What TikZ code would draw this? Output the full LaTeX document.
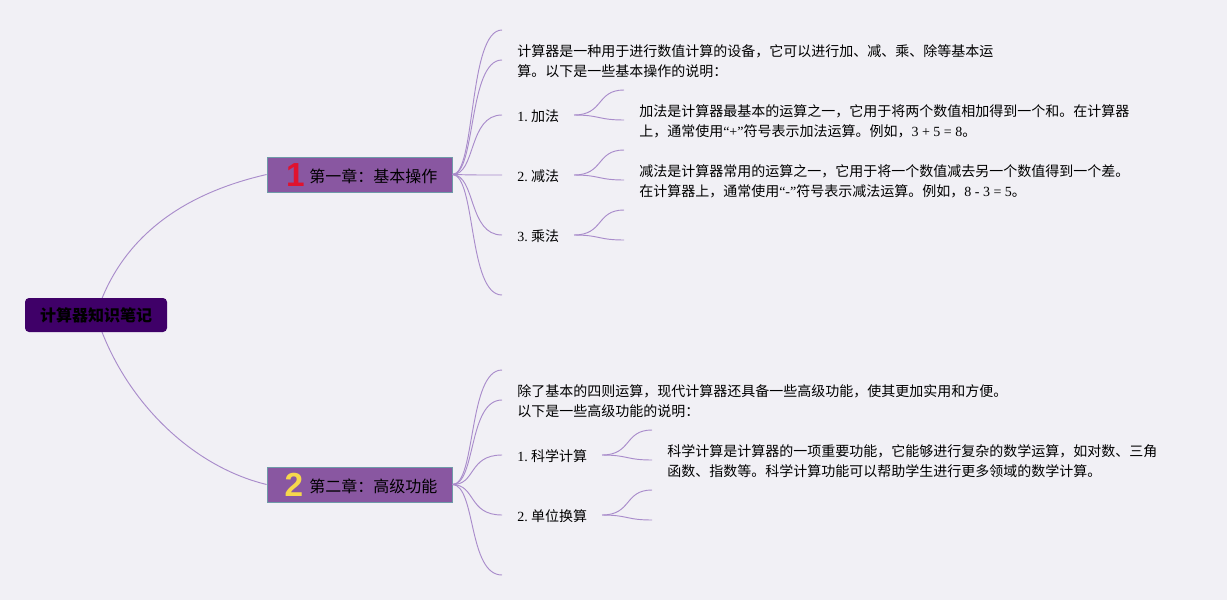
\documentclass[tikz,border=0pt]{standalone}
\usepackage{fontspec}
\setmainfont{Noto Sans CJK SC}
\newfontfamily\lat{Liberation Serif}
\newfontfamily\icon{Liberation Sans}
\usepackage{xcolor}
\newcommand{\zc}{\symbol{"FF0C}}
\newcommand{\zk}{\symbol{"FF1A}}
\definecolor{paper}{HTML}{F1F0F5}
\definecolor{rootfill}{HTML}{3F0068}
\definecolor{chapterfill}{HTML}{8957A1}
\definecolor{chapterline}{HTML}{6F9AA8}
\definecolor{linecol}{HTML}{A98CCB}
\definecolor{onecol}{HTML}{E0122F}
\definecolor{twocol}{HTML}{F6D84C}
\tikzset{
  root/.style={
    draw=none,
    fill=rootfill,
    rounded corners=3pt,
    minimum width=106.5pt,
    minimum height=25.5pt,
    inner sep=0pt,
    text=black,
    font=\fontsize{12}{15}\selectfont,
  },
  chapter/.style={
    draw=chapterline,
    rectangle,
    fill=chapterfill,
    minimum width=138.75pt,
    minimum height=26.25pt,
    line width=0.6pt,
  },
  chaptertext/.style={
    anchor=west,
    inner sep=0pt,
    font=\fontsize{12}{15}\selectfont,
  },
  badge/.style={
    inner sep=0pt,
    font=\icon\bfseries\fontsize{25}{25}\selectfont,
  },
  note/.style={
    anchor=west,
    inner sep=0pt,
    align=left,
    font=\fontsize{10.5}{15}\selectfont,
  },
  branch/.style={line width=0.7pt, draw=linecol},
}

\begin{document}
\begin{tikzpicture}[x=0.75pt,y=-0.75pt]
  \fill[paper] (0,0) rectangle (1227,600);
  \useasboundingbox (0,0) rectangle (1227,600);

  % root and chapters
  \coordinate (rootc) at (96,315);
  \node[chapter] (ch1) at (359.5,174.5) {};
  \node[chapter] (ch2) at (359.5,484.5) {};
  \draw[branch] (rootc) .. controls (122,232) and (190,192) .. (ch1.west);
  \draw[branch] (rootc) .. controls (122,398) and (190,466) .. (ch2.west);
  \node[root] (root) at (96,315) {\textbf{计算器知识笔记}};
  \node[badge, text=onecol] (one) at (295.5,175) {1};
  \node[badge, text=twocol] (two) at (294,485) {2};
  \node[chaptertext] (ch1t) at (309,176) {第一章\zk 基本操作};
  \node[chaptertext] (ch2t) at (309,486) {第二章\zk 高级功能};

  % first chapter
  \foreach \k/\yy in {a/30,b/60,c/115,d/175,e/235,f/295} {
    \coordinate (u\k) at (502,\yy);
    \draw[branch] (ch1.east) .. controls (476,175) and (468,\yy) .. (u\k);
  }
  \node[note] (introa) at (517,61) {计算器是一种用于进行数值计算的设备\zc 它可以进行加、减、乘、除等基本运\\算。以下是一些基本操作的说明\zk};
  \node[note] (add) at (517,116) {{\lat 1.\hspace{2.5pt}}加法};
  \node[note] (sub) at (517,176) {{\lat 2.\hspace{2.5pt}}减法};
  \node[note] (mul) at (517,236) {{\lat 3.\hspace{2.5pt}}乘法};
  \foreach \n/\yy in {add/115,sub/175,mul/235} {
    \coordinate (s\n) at (574,\yy);
    \coordinate (p\n) at (624,\yy-25);
    \coordinate (q\n) at (624,\yy+5);
    \draw[branch] (s\n) .. controls (604,\yy) and (596,\yy-25) .. (p\n);
    \draw[branch] (s\n) .. controls (600,\yy) and (598,\yy+5) .. (q\n);
  }
  \node[note] (addt) at (639,121) {加法是计算器最基本的运算之一\zc 它用于将两个数值相加得到一个和。在计算器\\上\zc 通常使用{\lat “+”}符号表示加法运算。例如\zc{\lat 3 + 5 = 8}。};
  \node[note] (subt) at (639,181) {减法是计算器常用的运算之一\zc 它用于将一个数值减去另一个数值得到一个差。\\在计算器上\zc 通常使用{\lat “-”}符号表示减法运算。例如\zc{\lat 8 - 3 = 5}。};

  % second chapter
  \foreach \k/\yy in {a/370,b/400,c/455,d/515,e/575} {
    \coordinate (v\k) at (502,\yy);
    \draw[branch] (ch2.east) .. controls (476,485) and (468,\yy) .. (v\k);
  }
  \node[note] (introb) at (517,401) {除了基本的四则运算\zc 现代计算器还具备一些高级功能\zc 使其更加实用和方便。\\以下是一些高级功能的说明\zk};
  \node[note] (sci) at (517,456) {{\lat 1.\hspace{2.5pt}}科学计算};
  \node[note] (unit) at (517,516) {{\lat 2.\hspace{2.5pt}}单位换算};
  \foreach \n/\yy in {sci/455,unit/515} {
    \coordinate (s\n) at (602,\yy);
    \coordinate (p\n) at (652,\yy-25);
    \coordinate (q\n) at (652,\yy+5);
    \draw[branch] (s\n) .. controls (632,\yy) and (624,\yy-25) .. (p\n);
    \draw[branch] (s\n) .. controls (628,\yy) and (626,\yy+5) .. (q\n);
  }
  \node[note] (scit) at (667,461) {科学计算是计算器的一项重要功能\zc 它能够进行复杂的数学运算\zc 如对数、三角\\函数、指数等。科学计算功能可以帮助学生进行更多领域的数学计算。};
\end{tikzpicture}
\end{document}
